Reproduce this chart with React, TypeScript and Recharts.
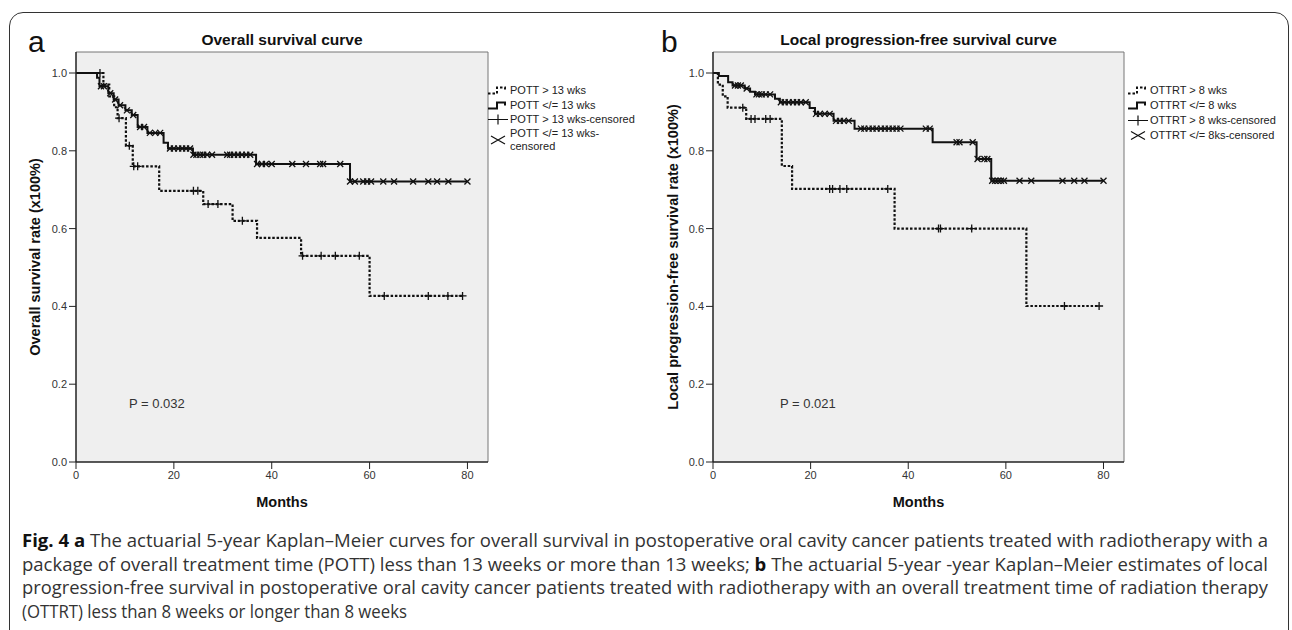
import React from "react";
import {
    ComposedChart,
    Line,
    Scatter,
    XAxis,
    YAxis,
    CartesianGrid,
    ReferenceLine,
    Label,
} from "recharts";

const FONT = '"Liberation Sans", Arial, sans-serif';

const monthTicks = [0, 20, 40, 60, 80];
const rateTicks = [0, 0.2, 0.4, 0.6, 0.8, 1.0];
const X_MAX = 84.2;
const Y_MAX = 1.054;

// panel a - POTT > 13 wks (dashed)
const pottLongTimes = [0, 5.6, 6.8, 7.8, 8.5, 10.2, 11.6, 17.0, 26.0, 32.0, 37.0, 46.0, 60.0, 79.0];
const pottLongSurv = [1.0, 0.97, 0.94, 0.912, 0.884, 0.813, 0.76, 0.697, 0.663, 0.62, 0.576, 0.53, 0.427, 0.427];
const pottLongCensored = [4.9, 8.8, 10.9, 11.8, 12.6, 24.0, 24.9, 27.0, 29.0, 34.0, 46.3, 50.1, 53.0, 57.9, 63.0, 72.0, 76.0, 79.0];

// panel a - POTT </= 13 wks (solid)
const pottShortTimes = [0, 4.3, 4.8, 6.6, 7.7, 8.7, 10.1, 11.4, 12.6, 14.6, 17.9, 18.8, 23.9, 36.8, 56.0, 80.0];
const pottShortSurv = [1.0, 0.988, 0.966, 0.948, 0.932, 0.917, 0.904, 0.892, 0.861, 0.846, 0.821, 0.806, 0.79, 0.766, 0.721, 0.721];
const pottShortCensored = [
    5.1, 5.7, 7.0, 8.0, 9.0, 10.4, 11.7, 13.1, 13.9, 15.1, 16.2, 17.2, 19.2, 20.0, 20.9, 21.7, 22.5, 23.3,
    24.0, 24.6, 25.4, 26.0, 26.8, 27.8, 30.9, 31.5, 32.3, 33.1, 33.9, 34.8, 35.6, 37.0, 38.0, 38.8, 40.0,
    44.2, 47.0, 49.9, 50.5, 54.0, 56.0, 57.0, 58.7, 59.5, 60.3, 62.8, 65.0, 68.9, 72.0, 73.8, 76.1, 80.0,
];

// panel b - OTTRT > 8 wks (dashed)
const ottrtLongTimes = [0, 1.0, 2.0, 3.0, 6.8, 14.1, 16.2, 37.2, 64.2, 79.1];
const ottrtLongSurv = [1.0, 0.97, 0.94, 0.911, 0.882, 0.761, 0.702, 0.6, 0.401, 0.401];
const ottrtLongCensored = [6.1, 7.8, 8.6, 10.8, 11.7, 23.9, 24.5, 26.0, 27.4, 35.8, 46.2, 46.6, 53.0, 72.0, 79.1];

// panel b - OTTRT </= 8 wks (solid)
const ottrtShortTimes = [0, 1.2, 3.1, 4.0, 6.5, 7.6, 8.6, 12.7, 13.7, 19.8, 20.9, 24.7, 29.0, 45.0, 54.0, 57.0, 80.0];
const ottrtShortSurv = [1.0, 0.992, 0.976, 0.968, 0.96, 0.952, 0.945, 0.934, 0.925, 0.91, 0.895, 0.877, 0.857, 0.822, 0.779, 0.723, 0.723];
const ottrtShortCensored = [
    4.5, 5.1, 5.7, 6.9, 8.9, 9.4, 10.0, 10.8, 11.7, 13.9, 14.7, 15.5, 16.4, 17.2, 18.0, 19.0, 21.1, 21.9,
    22.9, 23.9, 25.2, 26.0, 26.8, 27.8, 30.3, 31.0, 31.9, 32.7, 33.5, 34.4, 35.2, 36.0, 36.8, 37.6, 38.4,
    43.6, 44.4, 49.9, 50.5, 53.2, 54.2, 55.6, 56.2, 57.2, 57.8, 58.4, 59.0, 59.6, 62.8, 65.2, 71.6, 74.0,
    76.1, 80.0,
];

const pottLegend = ["POTT > 13 wks", "POTT </= 13 wks", "POTT > 13 wks-censored", "POTT </= 13 wks-\ncensored"];
const ottrtLegend = ["OTTRT > 8 wks", "OTTRT </= 8 wks", "OTTRT > 8 wks-censored", "OTTRT </= 8ks-censored"];

type Pt = { t: number; s: number };

const toSteps = (times: number[], surv: number[]): Pt[] => times.map((t, i) => ({ t, s: surv[i] }));

// censor ticks sit on the curve at their time
const survAt = (times: number[], surv: number[], t: number) => {
    let s = surv[0];
    times.forEach((tt, i) => {
        if (t >= tt) s = surv[i];
    });
    return s;
};

const toCensors = (cens: number[], times: number[], surv: number[]): Pt[] =>
    cens.map((t) => ({ t, s: survAt(times, surv, t) }));

const PlusMark = (props: any) => {
    const { cx, cy } = props;
    return (
        <path
            d={`M${cx - 4},${cy}H${cx + 4}M${cx},${cy - 4}V${cy + 4}`}
            stroke="#111"
            strokeWidth={1.3}
            fill="none"
        />
    );
};

const CrossMark = (props: any) => {
    const { cx, cy } = props;
    return (
        <path
            d={`M${cx - 3},${cy - 3}L${cx + 3},${cy + 3}M${cx - 3},${cy + 3}L${cx + 3},${cy - 3}`}
            stroke="#111"
            strokeWidth={1.3}
            fill="none"
        />
    );
};

const LegendIcon = ({ kind }: { kind: number }) => {
    if (kind === 0)
        return (
            <svg width={22} height={12}>
                <path d="M1 9 H10 V3 H18 V6" stroke="#111" strokeWidth={2} strokeDasharray="2.5 2" fill="none" />
            </svg>
        );
    if (kind === 1)
        return (
            <svg width={22} height={12}>
                <path d="M1 9 H10 V3 H18 V6" stroke="#111" strokeWidth={2} fill="none" />
            </svg>
        );
    if (kind === 2)
        return (
            <svg width={22} height={12}>
                <path d="M1 6 H21 M11 1 V11" stroke="#111" strokeWidth={1.2} fill="none" />
            </svg>
        );
    return (
        <svg width={22} height={12}>
            <path d="M4 2 L18 10 M4 10 L18 2" stroke="#111" strokeWidth={1.2} fill="none" />
        </svg>
    );
};

const SurvivalLegend = ({ labels, rows }: { labels: string[]; rows: number[] }) => (
    <>
        {labels.map((label, i) => (
            <div
                key={label}
                style={{
                    position: "absolute",
                    left: 487,
                    top: rows[i],
                    transform: "translateY(-50%)",
                    display: "flex",
                    alignItems: "center",
                    fontFamily: FONT,
                    fontSize: 11,
                    lineHeight: "13px",
                    color: "#222",
                    whiteSpace: "pre",
                }}
            >
                <LegendIcon kind={i} />
                <span style={{ marginLeft: 1 }}>{label}</span>
            </div>
        ))}
    </>
);

type PanelProps = {
    left: number;
    letter: string;
    title: string;
    yLabel: string;
    pValue: string;
    plotLeft: number;
    plotRight: number;
    dashed: Pt[];
    solid: Pt[];
    dashedCens: Pt[];
    solidCens: Pt[];
    legend: string[];
    legendRows: number[];
    yLabelOffset: number;
};

const SurvivalPanel = (p: PanelProps) => {
    const plotCenter = (p.plotLeft + p.plotRight) / 2;
    return (
        <div style={{ position: "absolute", left: p.left, top: 0, width: 640, height: 520 }}>
            <div
                style={{
                    position: "absolute",
                    left: p.left === 0 ? 28 : 21,
                    top: 27,
                    fontFamily: FONT,
                    fontSize: 30,
                    lineHeight: "30px",
                    color: "#111",
                }}
            >
                {p.letter}
            </div>
            <div
                style={{
                    position: "absolute",
                    left: plotCenter,
                    top: 40,
                    transform: "translate(-50%, -50%)",
                    fontFamily: FONT,
                    fontSize: 15.5,
                    fontWeight: "bold",
                    color: "#111",
                    whiteSpace: "nowrap",
                }}
            >
                {p.title}
            </div>
            <ComposedChart
                width={640}
                height={520}
                margin={{ top: 52, right: 640 - p.plotRight, bottom: 20, left: p.plotLeft - 46 }}
            >
                <CartesianGrid fill="#efefef" fillOpacity={1} horizontal={false} vertical={false} />
                <XAxis
                    dataKey="t"
                    type="number"
                    domain={[0, X_MAX]}
                    ticks={monthTicks}
                    allowDataOverflow
                    height={38}
                    tickSize={7}
                    tickMargin={2}
                    axisLine={{ stroke: "#222", strokeWidth: 1.5 }}
                    tickLine={{ stroke: "#222" }}
                    tick={{ fill: "#333", fontSize: 11, fontFamily: FONT }}
                >
                    <Label
                        value="Months"
                        position="insideBottom"
                        offset={-7}
                        fill="#111"
                        fontSize={14.5}
                        fontWeight="bold"
                        fontFamily={FONT}
                    />
                </XAxis>
                <YAxis
                    type="number"
                    domain={[0, Y_MAX]}
                    ticks={rateTicks}
                    allowDataOverflow
                    width={46}
                    tickSize={7}
                    tickMargin={2}
                    tickFormatter={(v: number) => v.toFixed(1)}
                    axisLine={{ stroke: "#222", strokeWidth: 1.5 }}
                    tickLine={{ stroke: "#222" }}
                    tick={{ fill: "#333", fontSize: 11, fontFamily: FONT }}
                >
                    <Label
                        value={p.yLabel}
                        angle={-90}
                        position="insideLeft"
                        offset={p.yLabelOffset}
                        fill="#111"
                        fontSize={14.5}
                        fontWeight="bold"
                        fontFamily={FONT}
                        style={{ textAnchor: "middle" }}
                    />
                </YAxis>
                <ReferenceLine y={Y_MAX} stroke="#777" strokeWidth={1} />
                <ReferenceLine x={X_MAX} stroke="#777" strokeWidth={1} />
                <Line
                    data={p.dashed}
                    dataKey="s"
                    type="stepAfter"
                    stroke="#111"
                    strokeWidth={2.2}
                    strokeDasharray="2.5 1.8"
                    dot={false}
                    isAnimationActive={false}
                />
                <Line
                    data={p.solid}
                    dataKey="s"
                    type="stepAfter"
                    stroke="#111"
                    strokeWidth={2}
                    dot={false}
                    isAnimationActive={false}
                />
                <Scatter data={p.dashedCens} dataKey="s" shape={PlusMark} isAnimationActive={false} />
                <Scatter data={p.solidCens} dataKey="s" shape={CrossMark} isAnimationActive={false} />
            </ComposedChart>
            <div
                style={{
                    position: "absolute",
                    left: p.plotLeft + 53 + (p.left === 0 ? 0 : 14),
                    top: 403,
                    transform: "translateY(-50%)",
                    fontFamily: FONT,
                    fontSize: 13,
                    color: "#333",
                    whiteSpace: "nowrap",
                }}
            >
                {p.pValue}
            </div>
            <SurvivalLegend labels={p.legend} rows={p.legendRows} />
        </div>
    );
};

const captionLines = [
    { bold: "Fig. 4 a", rest: " The actuarial 5-year Kaplan–Meier curves for overall survival in postoperative oral cavity cancer patients treated with radiotherapy with a", midBold: "", tail: "", width: 1246 },
    { bold: "", rest: "package of overall treatment time (POTT) less than 13 weeks or more than 13 weeks; ", midBold: "b", tail: " The actuarial 5-year -year Kaplan–Meier estimates of local", width: 1246 },
    { bold: "", rest: "progression-free survival in postoperative oral cavity cancer patients treated with radiotherapy with an overall treatment time of radiation therapy", midBold: "", tail: "", width: 1246 },
    { bold: "", rest: "(OTTRT) less than 8 weeks or longer than 8 weeks", midBold: "", tail: "", width: 385 },
];

const Caption = () => (
    <svg width={1292} height={110} style={{ position: "absolute", left: 0, top: 520 }}>
        {captionLines.map((ln, i) => (
            <text
                key={i}
                x={22}
                y={27 + i * 23.5}
                textLength={ln.width}
                lengthAdjust="spacingAndGlyphs"
                fontFamily='"Open Sans", sans-serif'
                fontSize={18}
                fill="#333"
            >
                {ln.bold && (
                    <tspan fontWeight="bold" fill="#111">
                        {ln.bold}
                    </tspan>
                )}
                <tspan>{ln.rest}</tspan>
                {ln.midBold && (
                    <tspan fontWeight="bold" fill="#111">
                        {ln.midBold}
                    </tspan>
                )}
                {ln.tail && <tspan>{ln.tail}</tspan>}
            </text>
        ))}
    </svg>
);

const App = () => {
    return (
        <div
            style={{
                position: "absolute",
                left: 0,
                top: 0,
                width: 1292,
                height: 630,
                overflow: "hidden",
                background: "#fff",
            }}
        >
            <div
                style={{
                    position: "absolute",
                    left: 9,
                    top: 12,
                    width: 1278,
                    height: 700,
                    border: "1.5px solid #333",
                    borderRadius: 14,
                }}
            />
            <SurvivalPanel
                left={0}
                letter="a"
                title="Overall survival curve"
                yLabel="Overall survival rate (x100%)"
                pValue="P = 0.032"
                plotLeft={76}
                plotRight={488}
                dashed={toSteps(pottLongTimes, pottLongSurv)}
                solid={toSteps(pottShortTimes, pottShortSurv)}
                dashedCens={toCensors(pottLongCensored, pottLongTimes, pottLongSurv)}
                solidCens={toCensors(pottShortCensored, pottShortTimes, pottShortSurv)}
                legend={pottLegend}
                legendRows={[90, 105, 119, 140]}
                yLabelOffset={5}
            />
            <SurvivalPanel
                left={640}
                letter="b"
                title="Local progression-free survival curve"
                yLabel="Local progression-free survival rate (x100%)"
                pValue="P = 0.021"
                plotLeft={73}
                plotRight={484}
                dashed={toSteps(ottrtLongTimes, ottrtLongSurv)}
                solid={toSteps(ottrtShortTimes, ottrtShortSurv)}
                dashedCens={toCensors(ottrtLongCensored, ottrtLongTimes, ottrtLongSurv)}
                solidCens={toCensors(ottrtShortCensored, ottrtShortTimes, ottrtShortSurv)}
                legend={ottrtLegend}
                legendRows={[90, 105, 120, 135]}
                yLabelOffset={6}
            />
            <Caption />
        </div>
    );
};

export default App;
